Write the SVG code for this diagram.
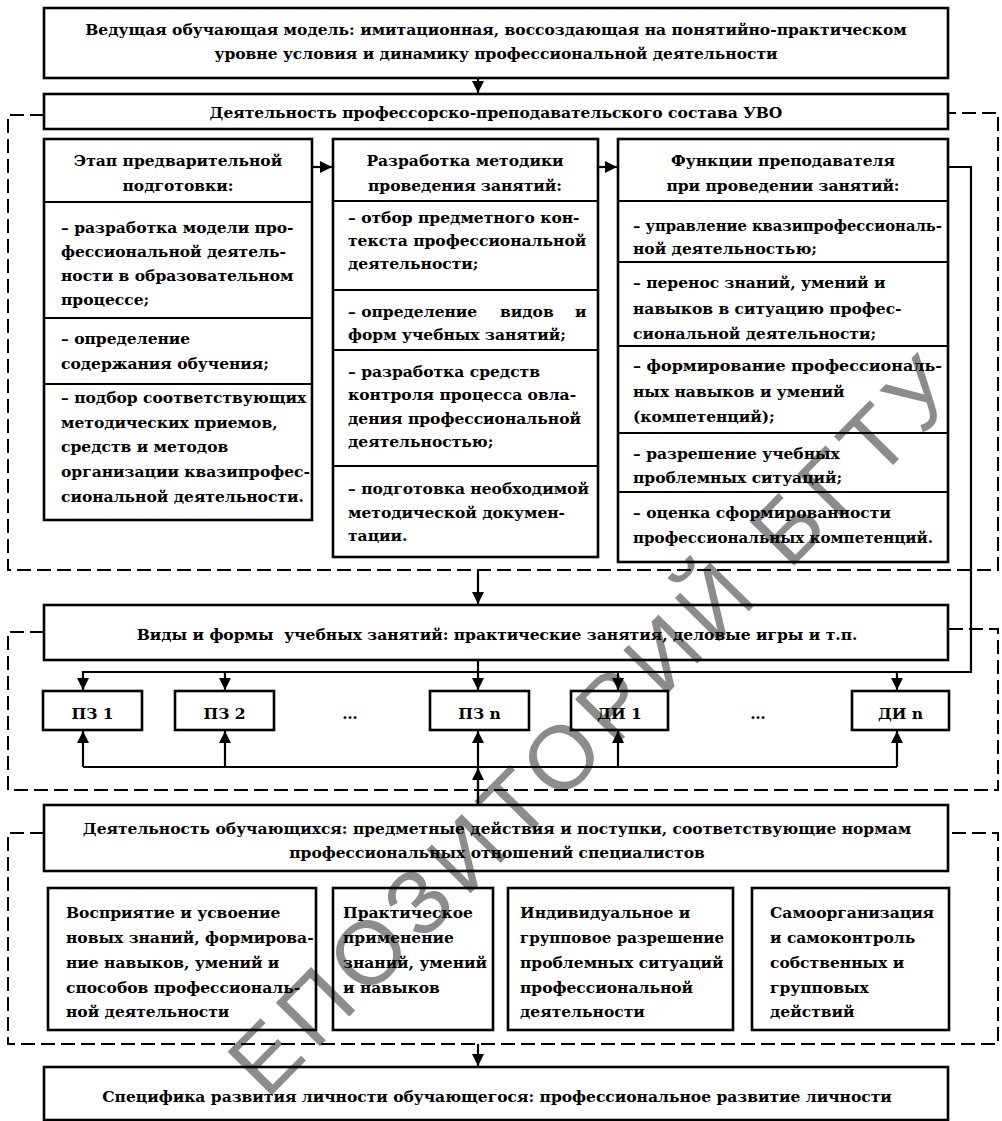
<svg xmlns="http://www.w3.org/2000/svg" width="1002" height="1121" viewBox="0 0 1002 1121">
<style>
.box{fill:none;stroke:#000;stroke-width:2.6}
.dv{stroke:#000;stroke-width:2}
.t{font-family:"DejaVu Serif","Liberation Serif",serif;font-size:15.5px;font-weight:bold;fill:#000}
.c{text-anchor:middle}
.con{fill:none;stroke:#000;stroke-width:2.2}
.dash{fill:none;stroke:#000;stroke-width:2;stroke-dasharray:14 6}
.wm{font-family:"Liberation Sans",Arial,sans-serif;font-size:90px;fill:#8c8c8c}
</style>
<defs>
<marker id="ah" viewBox="0 0 12 12" refX="12" refY="6" markerWidth="12" markerHeight="12" markerUnits="userSpaceOnUse" orient="auto"><path d="M0,0 L12,6 L0,12 z" fill="#000"/></marker>
</defs>
<rect width="1002" height="1121" fill="#fff"/>
<g id="watermark">
<text class="wm" x="614" y="748" text-anchor="middle" textLength="990" lengthAdjust="spacing" transform="rotate(-45.4 614 748)">ЕПОЗИТОРИЙ БГТУ</text>
</g>
<g id="frames">
<path class="dash" d="M44,115 H8 V570 H998 V113 H948"/>
<path class="dash" d="M44,632 H8 V790 H998 V629 H948"/>
<path class="dash" d="M44,833 H8 V1044 H998 V833 H948"/>
</g>
<g id="connectors">
<path class="con" d="M478,78 V93" marker-end="url(#ah)"/>
<path class="con" d="M312,167 H332" marker-end="url(#ah)"/>
<path class="con" d="M598,167 H617" marker-end="url(#ah)"/>
<path class="con" d="M478,570 V604" marker-end="url(#ah)"/>
<path class="con" d="M948,167 H971 V672 H83 V690" marker-end="url(#ah)"/>
<path class="con" d="M225,672 V690" marker-end="url(#ah)"/>
<path class="con" d="M478,660 V690" marker-end="url(#ah)"/>
<path class="con" d="M618,672 V690" marker-end="url(#ah)"/>
<path class="con" d="M897,672 V690" marker-end="url(#ah)"/>
<path class="con" d="M83,767 H897"/>
<path class="con" d="M83,767 V731" marker-end="url(#ah)"/>
<path class="con" d="M225,767 V731" marker-end="url(#ah)"/>
<path class="con" d="M618,767 V731" marker-end="url(#ah)"/>
<path class="con" d="M897,767 V731" marker-end="url(#ah)"/>
<path class="con" d="M478,805 V731" marker-end="url(#ah)"/>
<path class="con" d="M478,805 V768" marker-end="url(#ah)"/>
<path class="con" d="M478,1044 V1066" marker-end="url(#ah)"/>
</g>
<g id="n-model">
<rect class="box" x="44" y="8" width="904" height="70"/>
<text class="t c" x="496" y="35">Ведущая обучающая модель: имитационная, воссоздающая на понятийно-практическом</text>
<text class="t c" x="496" y="59">уровне условия и динамику профессиональной деятельности</text>
</g>
<g id="n-pps">
<rect class="box" x="44" y="94" width="904" height="35"/>
<text class="t c" x="496" y="118">Деятельность профессорско-преподавательского состава УВО</text>
</g>
<g id="n-stage1">
<rect class="box" x="44" y="139" width="268" height="381"/>
<line class="dv" x1="44" y1="202" x2="312" y2="202"/>
<line class="dv" x1="44" y1="318" x2="312" y2="318"/>
<line class="dv" x1="44" y1="384" x2="312" y2="384"/>
<text class="t c" x="178" y="166">Этап предварительной</text>
<text class="t c" x="178" y="191">подготовки:</text>
<text class="t" x="61" y="233">– разработка модели про-</text>
<text class="t" x="61" y="257">фессиональной деятель-</text>
<text class="t" x="61" y="281">ности в образовательном</text>
<text class="t" x="61" y="305">процессе;</text>
<text class="t" x="61" y="344">– определение</text>
<text class="t" x="61" y="369">содержания обучения;</text>
<text class="t" x="61" y="403">– подбор соответствующих</text>
<text class="t" x="61" y="428">методических приемов,</text>
<text class="t" x="61" y="452">средств и методов</text>
<text class="t" x="61" y="477">организации квазипрофес-</text>
<text class="t" x="61" y="502">сиональной деятельности.</text>
</g>
<g id="n-stage2">
<rect class="box" x="333" y="139" width="265" height="418"/>
<line class="dv" x1="333" y1="201" x2="598" y2="201"/>
<line class="dv" x1="333" y1="290" x2="598" y2="290"/>
<line class="dv" x1="333" y1="350" x2="598" y2="350"/>
<line class="dv" x1="333" y1="466" x2="598" y2="466"/>
<text class="t c" x="465" y="166">Разработка методики</text>
<text class="t c" x="465" y="191">проведения занятий:</text>
<text class="t" x="348" y="223">– отбор предметного кон-</text>
<text class="t" x="348" y="246">текста профессиональной</text>
<text class="t" x="348" y="269">деятельности;</text>
<text class="t" y="317"><tspan x="348">– определение</tspan><tspan x="500">видов</tspan><tspan x="575">и</tspan></text>
<text class="t" x="348" y="340">форм учебных занятий;</text>
<text class="t" x="348" y="377">– разработка средств</text>
<text class="t" x="348" y="400">контроля процесса овла-</text>
<text class="t" x="348" y="424">дения профессиональной</text>
<text class="t" x="348" y="447">деятельностью;</text>
<text class="t" x="348" y="494">– подготовка необходимой</text>
<text class="t" x="348" y="518">методической докумен-</text>
<text class="t" x="348" y="541">тации.</text>
</g>
<g id="n-stage3">
<rect class="box" x="618" y="139" width="330" height="423"/>
<line class="dv" x1="618" y1="201" x2="948" y2="201"/>
<line class="dv" x1="618" y1="262" x2="948" y2="262"/>
<line class="dv" x1="618" y1="346" x2="948" y2="346"/>
<line class="dv" x1="618" y1="433" x2="948" y2="433"/>
<line class="dv" x1="618" y1="492" x2="948" y2="492"/>
<text class="t c" x="783" y="166">Функции преподавателя</text>
<text class="t c" x="783" y="191">при проведении занятий:</text>
<text class="t" x="633" y="231" textLength="309" lengthAdjust="spacingAndGlyphs">– управление квазипрофессиональ-</text>
<text class="t" x="633" y="254">ной деятельностью;</text>
<text class="t" x="633" y="288">– перенос знаний, умений и</text>
<text class="t" x="633" y="314">навыков в ситуацию профес-</text>
<text class="t" x="633" y="339">сиональной деятельности;</text>
<text class="t" x="633" y="371" textLength="309" lengthAdjust="spacingAndGlyphs">– формирование профессиональ-</text>
<text class="t" x="633" y="397">ных навыков и умений</text>
<text class="t" x="633" y="422">(компетенций);</text>
<text class="t" x="633" y="459">– разрешение учебных</text>
<text class="t" x="633" y="483">проблемных ситуаций;</text>
<text class="t" x="633" y="518">– оценка сформированности</text>
<text class="t" x="633" y="543" textLength="300" lengthAdjust="spacingAndGlyphs">профессиональных компетенций.</text>
</g>
<g id="n-forms">
<rect class="box" x="44" y="605" width="904" height="55"/>
<text class="t c" x="497" y="640" xml:space="preserve">Виды и формы  учебных занятий: практические занятия, деловые игры и т.п.</text>
</g>
<g id="n-pz1">
<rect class="box" x="43" y="691" width="99" height="39"/>
<text class="t c" x="92.5" y="719">ПЗ 1</text>
</g>
<g id="n-pz2">
<rect class="box" x="175" y="691" width="99" height="39"/>
<text class="t c" x="224.5" y="719">ПЗ 2</text>
</g>
<text class="t c" x="350" y="719">…</text>
<g id="n-pzn">
<rect class="box" x="430" y="691" width="99" height="39"/>
<text class="t c" x="479.5" y="719">ПЗ n</text>
</g>
<g id="n-di1">
<rect class="box" x="571" y="691" width="97" height="39"/>
<text class="t c" x="619.5" y="719">ДИ 1</text>
</g>
<text class="t c" x="758" y="719">…</text>
<g id="n-din">
<rect class="box" x="852" y="691" width="97" height="39"/>
<text class="t c" x="900.5" y="719">ДИ n</text>
</g>
<g id="n-students">
<rect class="box" x="44" y="805" width="904" height="66"/>
<text class="t c" x="497" y="834">Деятельность обучающихся: предметные действия и поступки, соответствующие нормам</text>
<text class="t c" x="497" y="858">профессиональных отношений специалистов</text>
</g>
<g id="n-s1">
<rect class="box" x="48" y="888" width="268" height="142"/>
<text class="t" x="66" y="918">Восприятие и усвоение</text>
<text class="t" x="66" y="943">новых знаний, формирова-</text>
<text class="t" x="66" y="968">ние навыков, умений и</text>
<text class="t" x="66" y="993">способов профессиональ-</text>
<text class="t" x="66" y="1017">ной деятельности</text>
</g>
<g id="n-s2">
<rect class="box" x="333" y="888" width="160" height="142"/>
<text class="t" x="343" y="918">Практическое</text>
<text class="t" x="343" y="943">применение</text>
<text class="t" x="343" y="968">знаний, умений</text>
<text class="t" x="343" y="993">и навыков</text>
</g>
<g id="n-s3">
<rect class="box" x="508" y="888" width="225" height="142"/>
<text class="t" x="520" y="918">Индивидуальное и</text>
<text class="t" x="520" y="943" textLength="204" lengthAdjust="spacingAndGlyphs">групповое разрешение</text>
<text class="t" x="520" y="968">проблемных ситуаций</text>
<text class="t" x="520" y="993">профессиональной</text>
<text class="t" x="520" y="1017">деятельности</text>
</g>
<g id="n-s4">
<rect class="box" x="752" y="888" width="197" height="142"/>
<text class="t" x="770" y="918">Самоорганизация</text>
<text class="t" x="770" y="943">и самоконтроль</text>
<text class="t" x="770" y="968">собственных и</text>
<text class="t" x="770" y="993">групповых</text>
<text class="t" x="770" y="1017">действий</text>
</g>
<g id="n-result">
<rect class="box" x="44" y="1067" width="904" height="53"/>
<text class="t c" x="497" y="1102">Специфика развития личности обучающегося: профессиональное развитие личности</text>
</g>
</svg>
